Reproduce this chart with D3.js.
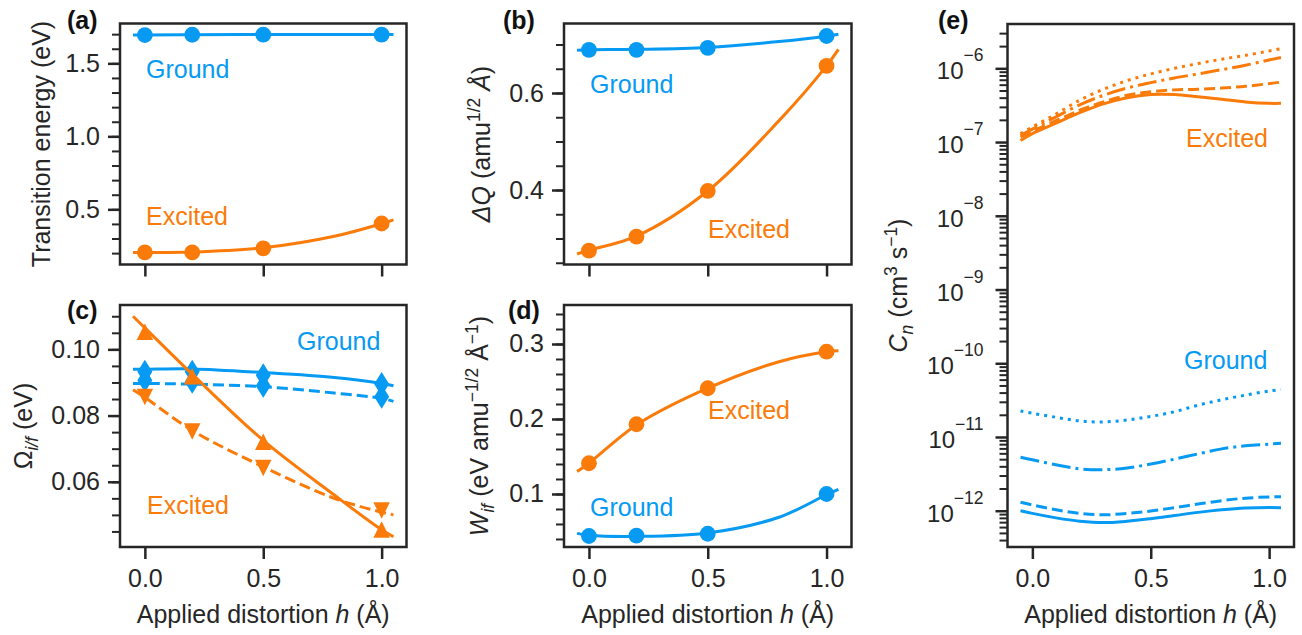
<!DOCTYPE html>
<html><head><meta charset="utf-8">
<script src="https://cdn.jsdelivr.net/npm/d3@7"></script>
<style>body{margin:0;background:#fff} svg{display:block}</style>
</head><body>
<svg id="fig" width="1302" height="635"></svg>
<script>
// ---------------- data ----------------
const H = [0, 0.2, 0.5, 1.0];
const FIT_H = [-0.05, 0, 0.2, 0.5, 0.8, 1.0, 1.05];
const X_TICKS = [0, 0.5, 1.0];

const energyGround = [1.694, 1.696, 1.697, 1.697];
const energyExcited = [0.205, 0.205, 0.233, 0.403];
const energyGroundFit = [1.694, 1.694, 1.696, 1.697, 1.697, 1.697, 1.697];
const energyExcitedFit = [0.205, 0.204, 0.207, 0.236, 0.315, 0.402, 0.428];

const dQGround = [0.689, 0.689, 0.693, 0.7175];
const dQExcited = [0.275, 0.304, 0.398, 0.656];
const dQGroundFit = [0.688, 0.689, 0.690, 0.694, 0.706, 0.717, 0.721];
const dQExcitedFit = [0.268, 0.276, 0.305, 0.398, 0.543, 0.656, 0.690];

const omegaGroundI = [0.0932, 0.0932, 0.0922, 0.0895];
const omegaGroundF = [0.0907, 0.0902, 0.0890, 0.0857];
const omegaExcitedI = [0.1053, 0.0919, 0.0721, 0.0456];
const omegaExcitedF = [0.0856, 0.0752, 0.0642, 0.0513];
const omegaGroundIFit = [0.0940, 0.0940, 0.0941, 0.0930, 0.0915, 0.0897, 0.0890];
const omegaGroundFFit = [0.0897, 0.0897, 0.0895, 0.0887, 0.0868, 0.0852, 0.0843];
const omegaExcitedIFit = [0.1100, 0.1065, 0.0925, 0.0725, 0.0560, 0.0455, 0.0434];
const omegaExcitedFFit = [0.0878, 0.0855, 0.0755, 0.0645, 0.0550, 0.0508, 0.0500];

const wGround = [0.044, 0.0445, 0.047, 0.100];
const wExcited = [0.141, 0.193, 0.241, 0.2897];
const wGroundFit = [0.0475, 0.045, 0.0435, 0.048, 0.069, 0.099, 0.106];
const wExcitedFit = [0.130, 0.141, 0.192, 0.241, 0.2764, 0.2897, 0.291];

const CN_H = [-0.05, 0, 0.1, 0.2, 0.3, 0.4, 0.5, 0.6, 0.7, 0.8, 0.9, 1.0, 1.05];
const cnExcited1 = [1.05e-7, 1.3e-7, 1.8e-7, 2.5e-7, 3.3e-7, 4.0e-7, 4.4e-7, 4.4e-7, 4.1e-7, 3.8e-7, 3.5e-7, 3.35e-7, 3.35e-7];
const cnExcited2 = [1.17e-7, 1.4e-7, 1.95e-7, 2.7e-7, 3.5e-7, 4.3e-7, 4.8e-7, 5.1e-7, 5.2e-7, 5.4e-7, 5.7e-7, 6.2e-7, 6.5e-7];
const cnExcited3 = [1.23e-7, 1.5e-7, 2.2e-7, 3.2e-7, 4.3e-7, 5.4e-7, 6.4e-7, 7.4e-7, 8.4e-7, 9.6e-7, 1.1e-6, 1.3e-6, 1.4e-6];
const cnExcited4 = [1.3e-7, 1.6e-7, 2.4e-7, 3.7e-7, 5.2e-7, 6.8e-7, 8.4e-7, 1.0e-6, 1.16e-6, 1.33e-6, 1.5e-6, 1.72e-6, 1.85e-6];
const cnGround1 = [1.0e-12, 9.2e-13, 8.0e-13, 7.2e-13, 6.9e-13, 7.2e-13, 7.8e-13, 8.6e-13, 9.5e-13, 1.03e-12, 1.09e-12, 1.11e-12, 1.1e-12];
const cnGround2 = [1.3e-12, 1.2e-12, 1.03e-12, 9.2e-13, 8.8e-13, 9.2e-13, 9.9e-13, 1.1e-12, 1.23e-12, 1.37e-12, 1.48e-12, 1.54e-12, 1.55e-12];
const cnGround3 = [5.3e-12, 4.9e-12, 4.2e-12, 3.7e-12, 3.6e-12, 3.8e-12, 4.3e-12, 5.0e-12, 5.9e-12, 6.9e-12, 7.6e-12, 8.0e-12, 8.2e-12];
const cnGround4 = [2.25e-11, 2.1e-11, 1.85e-11, 1.65e-11, 1.6e-11, 1.7e-11, 1.9e-11, 2.2e-11, 2.7e-11, 3.2e-11, 3.7e-11, 4.2e-11, 4.4e-11];
const CN_MAJOR_EXP = [-12, -11, -10, -9, -8, -7, -6];

// ---------------- style / layout ----------------
const BLUE = "#069af3", ORANGE = "#fa7b0a", INK = "#262626";
const FONT = "'Liberation Sans', Arial, Helvetica, sans-serif";
const FS = 25;
const LW = 3;
const X_DOMAIN = [-0.105, 1.105];
const DASH = {solid: null, dashed: "11,5", dashdot: "19,5,3,5", dotted: "3,5"};

const svg = d3.select("#fig");
svg.append("rect").attr("width", 1302).attr("height", 635).attr("fill", "#fff");

const fitLine = (x, y) => d3.line().x(d => x(d[0])).y(d => y(d[1])).curve(d3.curveCatmullRom.alpha(0.5));

function rich(sel, parts, size) {
  let cur = 0;
  parts.forEach(p => {
    const shift = p.sup ? -0.42 * size : (p.sub ? 0.22 * size : 0);
    const ts = sel.append("tspan").text(p.t).attr("dy", shift - cur);
    cur = shift;
    if (p.sup || p.sub) ts.attr("font-size", size * 0.7);
    if (p.it) ts.attr("font-style", "italic");
  });
}

function markerPath(kind, s) {
  if (kind === "tri-up") return `M0,${-s/2}L${s/2},${s/2}L${-s/2},${s/2}Z`;
  if (kind === "tri-down") return `M0,${s/2}L${s/2},${-s/2}L${-s/2},${-s/2}Z`;
  if (kind === "thin-diamond") return `M0,-12L7.5,0L0,12L-7.5,0Z`;
  return null;
}

function panel(cfg) {
  const b = cfg.box;
  const g = svg.append("g");
  const x = d3.scaleLinear().domain(X_DOMAIN).range([b.l, b.r]);
  const y = cfg.log
    ? d3.scaleLog().domain(cfg.yDomain).range([b.b, b.t])
    : d3.scaleLinear().domain(cfg.yDomain).range([b.b, b.t]);

  // series
  cfg.series.forEach(s => {
    if (s.fit) {
      g.append("path").datum(s.fitX.map((v, i) => [v, s.fit[i]]))
        .attr("d", fitLine(x, y)).attr("fill", "none")
        .attr("stroke", s.color).attr("stroke-width", LW)
        .attr("stroke-dasharray", DASH[s.dash || "solid"]);
    }
    if (s.pts) {
      const sel = g.append("g").selectAll("g").data(H.map((v, i) => [v, s.pts[i]])).join("g")
        .attr("transform", d => `translate(${x(d[0])},${y(d[1])})`);
      if (s.marker === "circle") sel.append("circle").attr("r", 7.9).attr("fill", s.color);
      else sel.append("path").attr("d", markerPath(s.marker, 16.5)).attr("fill", s.color);
    }
  });

  // axes
  const styleAxis = (ga, w) => {
    ga.select(".domain").remove();
    ga.attr("font-size", FS).attr("font-family", FONT).attr("fill", INK);
    ga.selectAll("line").attr("stroke", INK).attr("stroke-width", w);
    ga.selectAll("text").attr("fill", INK);
  };
  const gx = g.append("g").attr("transform", `translate(0,${b.b})`)
    .call(d3.axisBottom(x).tickValues(X_TICKS).tickSize(12).tickPadding(10.5)
      .tickFormat(cfg.xLabels ? d3.format(".1f") : () => ""));
  styleAxis(gx, 2.5);

  if (!cfg.log) {
    const gy = g.append("g").attr("transform", `translate(${b.l},0)`)
      .call(d3.axisLeft(y).tickValues(cfg.yMajor).tickSize(12).tickPadding(8).tickFormat(d3.format(cfg.yFmt)));
    styleAxis(gy, 2.5);
    const gm = g.append("g").attr("transform", `translate(${b.l},0)`)
      .call(d3.axisLeft(y).tickValues(cfg.yMinor).tickSize(8).tickFormat(() => ""));
    styleAxis(gm, 2);
  } else {
    const majors = CN_MAJOR_EXP.map(e => Math.pow(10, e));
    const minors = [];
    for (let e = -13; e <= -5; e++) for (let m = 2; m <= 9; m++) {
      const v = m * Math.pow(10, e);
      if (v >= cfg.yDomain[0] && v <= cfg.yDomain[1]) minors.push(v);
    }
    const gy = g.append("g").attr("transform", `translate(${b.l},0)`)
      .call(d3.axisLeft(y).tickValues(majors).tickSize(12).tickFormat(() => ""));
    styleAxis(gy, 2.5);
    const gm = g.append("g").attr("transform", `translate(${b.l},0)`)
      .call(d3.axisLeft(y).tickValues(minors).tickSize(8).tickFormat(() => ""));
    styleAxis(gm, 2);
    CN_MAJOR_EXP.forEach(e => {
      const t = g.append("text").attr("x", b.l - 24).attr("y", y(Math.pow(10, e)) + 11)
        .attr("text-anchor", "end").attr("font-family", FONT).attr("fill", INK).attr("font-size", 24);
      t.append("tspan").text("10");
      t.append("tspan").text("\u2212" + Math.abs(e)).attr("font-size", 17.5).attr("dy", -18);
    });
  }

  // frame
  g.append("rect").attr("x", b.l).attr("y", b.t).attr("width", b.r - b.l).attr("height", b.b - b.t)
    .attr("fill", "none").attr("stroke", INK).attr("stroke-width", 2.5);

  // y label
  const yl = g.append("text")
    .attr("transform", `translate(${cfg.yLabelX},${(b.t + b.b) / 2}) rotate(-90)`)
    .attr("text-anchor", "middle").attr("font-family", FONT).attr("font-size", FS).attr("fill", INK);
  rich(yl, cfg.yLabel, FS);

  // x label
  if (cfg.xLabels) {
    const xl = g.append("text").attr("x", (b.l + b.r) / 2).attr("y", 623)
      .attr("text-anchor", "middle").attr("font-family", FONT).attr("font-size", FS).attr("fill", INK);
    rich(xl, [{t: "Applied distortion "}, {t: "h", it: true}, {t: " (\u00C5)"}], FS);
  }

  // panel letter
  g.append("text").attr("x", cfg.letterPos[0]).attr("y", cfg.letterPos[1])
    .attr("font-family", FONT).attr("font-weight", "bold").attr("font-size", FS).attr("fill", "#111")
    .text(cfg.letter);

  // annotations
  cfg.notes.forEach(n => {
    g.append("text").attr("x", n.pos[0]).attr("y", n.pos[1]).attr("font-family", FONT)
      .attr("font-size", FS).attr("fill", n.color).text(n.t);
  });
}

const range = (a, b, s) => { const r = []; for (let v = a; v <= b + 1e-9; v += s) r.push(+v.toFixed(4)); return r; };

panel({
  box: {l: 120, r: 406.5, t: 23.5, b: 264.5}, yDomain: [0.122, 1.773],
  yMajor: [0.5, 1.0, 1.5], yMinor: range(0.2, 1.7, 0.1), yFmt: ".1f", xLabels: false,
  yLabelX: 50, yLabel: [{t: "Transition energy (eV)"}],
  letter: "(a)", letterPos: [67, 29],
  notes: [{t: "Ground", color: BLUE, pos: [146, 78]}, {t: "Excited", color: ORANGE, pos: [146, 225]}],
  series: [
    {fitX: FIT_H, fit: energyGroundFit, pts: energyGround, color: BLUE, marker: "circle"},
    {fitX: FIT_H, fit: energyExcitedFit, pts: energyExcited, color: ORANGE, marker: "circle"}
  ]
});

panel({
  box: {l: 564, r: 851.5, t: 23.5, b: 264.5}, yDomain: [0.2464, 0.7433],
  yMajor: [0.4, 0.6], yMinor: range(0.25, 0.70, 0.05), yFmt: ".1f", xLabels: false,
  yLabelX: 490, yLabel: [{t: "\u0394Q", it: true}, {t: " (amu"}, {t: "1/2", sup: true}, {t: " \u00C5", it: true}, {t: ")"}],
  letter: "(b)", letterPos: [503, 29],
  notes: [{t: "Ground", color: BLUE, pos: [590, 93]}, {t: "Excited", color: ORANGE, pos: [708, 238]}],
  series: [
    {fitX: FIT_H, fit: dQGroundFit, pts: dQGround, color: BLUE, marker: "circle"},
    {fitX: FIT_H, fit: dQExcitedFit, pts: dQExcited, color: ORANGE, marker: "circle"}
  ]
});

panel({
  box: {l: 120, r: 406.5, t: 305, b: 547}, yDomain: [0.0403, 0.1134],
  yMajor: [0.06, 0.08, 0.10], yMinor: range(0.045, 0.110, 0.005), yFmt: ".2f", xLabels: true,
  yLabelX: 32, yLabel: [{t: "\u03A9"}, {t: "i/f", sub: true, it: true}, {t: " (eV)"}],
  letter: "(c)", letterPos: [67, 319],
  notes: [{t: "Ground", color: BLUE, pos: [297, 350]}, {t: "Excited", color: ORANGE, pos: [147, 514]}],
  series: [
    {fitX: FIT_H, fit: omegaGroundIFit, pts: omegaGroundI, color: BLUE, marker: "thin-diamond"},
    {fitX: FIT_H, fit: omegaGroundFFit, pts: omegaGroundF, color: BLUE, marker: "thin-diamond", dash: "dashed"},
    {fitX: FIT_H, fit: omegaExcitedIFit, pts: omegaExcitedI, color: ORANGE, marker: "tri-up"},
    {fitX: FIT_H, fit: omegaExcitedFFit, pts: omegaExcitedF, color: ORANGE, marker: "tri-down", dash: "dashed"}
  ]
});

panel({
  box: {l: 564, r: 851.5, t: 305, b: 547}, yDomain: [0.0293, 0.352],
  yMajor: [0.1, 0.2, 0.3], yMinor: range(0.04, 0.34, 0.02), yFmt: ".1f", xLabels: true,
  yLabelX: 488, yLabel: [{t: "W", it: true}, {t: "if", sub: true, it: true}, {t: " (eV amu"}, {t: "\u22121/2", sup: true}, {t: " \u00C5"}, {t: "\u22121", sup: true}, {t: ")"}],
  letter: "(d)", letterPos: [508, 319],
  notes: [{t: "Excited", color: ORANGE, pos: [708, 419]}, {t: "Ground", color: BLUE, pos: [590, 516]}],
  series: [
    {fitX: FIT_H, fit: wGroundFit, pts: wGround, color: BLUE, marker: "circle"},
    {fitX: FIT_H, fit: wExcitedFit, pts: wExcited, color: ORANGE, marker: "circle"}
  ]
});

panel({
  box: {l: 1007.5, r: 1294, t: 24, b: 547}, log: true, yDomain: [Math.pow(10, -12.492), Math.pow(10, -5.399)],
  xLabels: true,
  yLabelX: 907, yLabel: [{t: "C", it: true}, {t: "n", sub: true, it: true}, {t: " (cm"}, {t: "3", sup: true}, {t: " s"}, {t: "\u22121", sup: true}, {t: ")"}],
  letter: "(e)", letterPos: [938, 29],
  notes: [{t: "Excited", color: ORANGE, pos: [1186, 147]}, {t: "Ground", color: BLUE, pos: [1184, 369]}],
  series: [
    {fitX: CN_H, fit: cnGround1, color: BLUE},
    {fitX: CN_H, fit: cnGround2, color: BLUE, dash: "dashed"},
    {fitX: CN_H, fit: cnGround3, color: BLUE, dash: "dashdot"},
    {fitX: CN_H, fit: cnGround4, color: BLUE, dash: "dotted"},
    {fitX: CN_H, fit: cnExcited1, color: ORANGE},
    {fitX: CN_H, fit: cnExcited2, color: ORANGE, dash: "dashed"},
    {fitX: CN_H, fit: cnExcited3, color: ORANGE, dash: "dashdot"},
    {fitX: CN_H, fit: cnExcited4, color: ORANGE, dash: "dotted"}
  ]
});
</script>
</body></html>
